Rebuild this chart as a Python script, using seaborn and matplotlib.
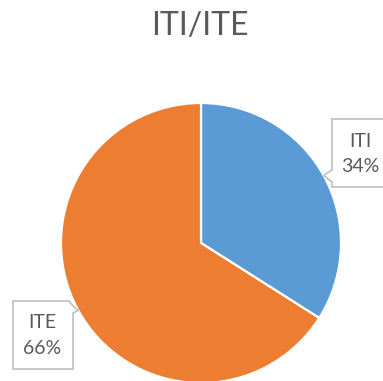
import numpy as np
import matplotlib
matplotlib.use("Agg")
import matplotlib.pyplot as plt
from matplotlib.patches import Polygon
import seaborn as sns

# Share of trainees by institute type
categories = ["ITI", "ITE"]
shares = [34, 66]
title = "ITI/ITE"

sns.set_style("white")
plt.rcParams["font.family"] = ["Lato", "DejaVu Sans"]

colors = ["#5B9BD5", "#ED7D31"]

W, H = 383, 381
fig = plt.figure(figsize=(W / 100, H / 100), dpi=100)
ax = fig.add_axes([0, 0, 1, 1])

# pixel-like coordinates, y grows downward
cx, cy, r = 201, 243, 140
wedges, _ = ax.pie(shares, colors=colors, startangle=-90, counterclock=True,
                   center=(cx, cy), radius=r,
                   wedgeprops=dict(edgecolor="white", linewidth=1.6))
ax.set_xlim(0, W)
ax.set_ylim(H, 0)
ax.set_aspect("auto")
ax.axis("off")

ax.text(200, 35, title, ha="center", va="baseline", fontsize=23, color="#595959")

# callout boxes: (left, top, right, bottom), notch side, text centre
boxes = [
    dict(box=(332, 119, 390, 187), side="left", text=(360, 154)),
    dict(box=(13, 301, 73, 369), side="right", text=(42, 335.5)),
]

for wedge, cat, val, spec in zip(wedges, categories, shares, boxes):
    mid = np.deg2rad((wedge.theta1 + wedge.theta2) / 2)
    tip = (cx + r * np.cos(mid), cy + r * np.sin(mid))
    x0, y0, x1, y1 = spec["box"]
    if spec["side"] == "left":
        pts = [(x0, y0), (x1, y0), (x1, y1), (x0, y1), (x0, 182), tip, (x0, 170)]
    else:
        pts = [(x0, y0), (69, y0), (x1, 306), tip, (x1, 313), (x1, y1), (x0, y1)]
    ax.add_patch(Polygon(pts, closed=True, facecolor="white", edgecolor="#BFBFBF",
                         linewidth=1.2, zorder=3))
    ax.text(*spec["text"], f"{cat}\n{val}%", ha="center", va="center",
            fontsize=14, color="#595959", linespacing=1.6, zorder=4)

fig.savefig("out.png", dpi=100)
